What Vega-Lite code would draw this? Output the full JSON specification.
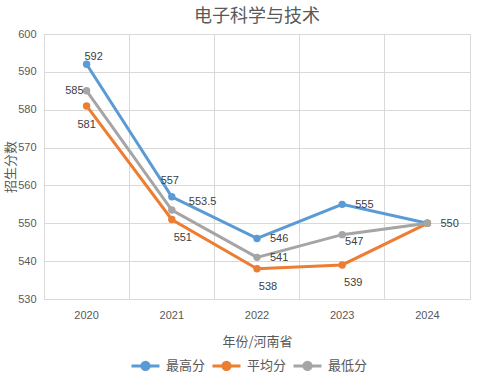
{
  "$schema": "https://vega.github.io/schema/vega-lite/v6.json",
  "autosize": {"type": "none"},
  "padding": {"left": 44, "top": 34, "right": 12, "bottom": 79},
  "width": 426,
  "height": 265,
  "background": "white",
  "title": {"text": "电子科学与技术", "font": "Noto Sans CJK SC", "fontSize": 18, "fontWeight": "normal", "color": "#595959", "anchor": "middle", "offset": 2},
  "config": {
    "font": "Noto Sans CJK SC",
    "view": {"stroke": "#d9d9d9"},
    "axis": {"gridColor": "#d9d9d9", "domain": false, "ticks": false, "labelColor": "#595959", "labelFontSize": 11, "titleColor": "#595959", "titleFontWeight": "normal", "titleFontSize": 13, "labelFont": "Liberation Sans", "labelOverlap": false}
  },
  "data": {"values": [
    {"year": "2020", "series": "最高分", "score": 592},
    {"year": "2021", "series": "最高分", "score": 557},
    {"year": "2022", "series": "最高分", "score": 546},
    {"year": "2023", "series": "最高分", "score": 555},
    {"year": "2024", "series": "最高分", "score": 550},
    {"year": "2020", "series": "平均分", "score": 581},
    {"year": "2021", "series": "平均分", "score": 551},
    {"year": "2022", "series": "平均分", "score": 538},
    {"year": "2023", "series": "平均分", "score": 539},
    {"year": "2024", "series": "平均分", "score": 550},
    {"year": "2020", "series": "最低分", "score": 585},
    {"year": "2021", "series": "最低分", "score": 553.5},
    {"year": "2022", "series": "最低分", "score": 541},
    {"year": "2023", "series": "最低分", "score": 547},
    {"year": "2024", "series": "最低分", "score": 550}
  ]},
  "encoding": {
    "x": {"field": "year", "type": "ordinal", "scale": {"type": "band", "paddingInner": 0, "paddingOuter": 0},
          "axis": {"title": "年份/河南省", "labelAngle": 0, "bandPosition": 0, "labelPadding": 10, "titlePadding": 15, "grid": true}},
    "y": {"field": "score", "type": "quantitative", "scale": {"domain": [530, 600], "nice": false, "zero": false},
          "axis": {"title": "招生分数", "values": [530, 540, 550, 560, 570, 580, 590, 600], "labelPadding": 8, "titlePadding": 0}}
  },
  "layer": [
    {
      "mark": {"type": "line", "strokeWidth": 3, "point": {"size": 55, "filled": true, "opacity": 1}},
      "encoding": {
        "x": {"field": "year", "type": "ordinal", "bandPosition": 0.5},
        "color": {"field": "series", "type": "nominal",
          "scale": {"domain": ["最高分", "平均分", "最低分"], "range": ["#5b9bd5", "#ed7d31", "#a5a5a5"]},
          "legend": {"title": null, "orient": "none", "direction": "horizontal", "legendX": 86, "legendY": 316,
                     "symbolType": "M-1,0H1M0.26,0A0.26,0.26 0 1,1 -0.26,0A0.26,0.26 0 1,1 0.26,0Z",
                     "symbolSize": 784, "symbolStrokeWidth": 3, "labelFontSize": 13, "labelColor": "#595959", "columnPadding": 0, "labelOffset": 5}
        }
      }
    },
    {
      "transform": [{"filter": "datum.series == '最高分' && datum.year == '2020'"}],
      "mark": {"type": "text", "align": "center", "dx": 7, "dy": -7, "fontSize": 11, "color": "#404040", "font": "Liberation Sans"},
      "encoding": {"x": {"field": "year", "type": "ordinal", "bandPosition": 0.5}, "text": {"field": "score"}}
    },
    {
      "transform": [{"filter": "datum.series == '最高分' && datum.year == '2021'"}],
      "mark": {"type": "text", "align": "center", "dx": -2, "dy": -16, "fontSize": 11, "color": "#404040", "font": "Liberation Sans"},
      "encoding": {"x": {"field": "year", "type": "ordinal", "bandPosition": 0.5}, "text": {"field": "score"}}
    },
    {
      "transform": [{"filter": "datum.series == '最高分' && datum.year >= '2022'"}],
      "mark": {"type": "text", "align": "left", "dx": 13, "dy": 1, "fontSize": 11, "color": "#404040", "font": "Liberation Sans"},
      "encoding": {"x": {"field": "year", "type": "ordinal", "bandPosition": 0.5}, "text": {"field": "score"}}
    },
    {
      "transform": [{"filter": "datum.series == '平均分' && datum.year == '2020'"}],
      "mark": {"type": "text", "align": "center", "dx": 0, "dy": 19, "fontSize": 11, "color": "#404040", "font": "Liberation Sans"},
      "encoding": {"x": {"field": "year", "type": "ordinal", "bandPosition": 0.5}, "text": {"field": "score"}}
    },
    {
      "transform": [{"filter": "datum.series == '平均分' && datum.year != '2020' && datum.year != '2024'"}],
      "mark": {"type": "text", "align": "center", "dx": 11, "dy": 18, "fontSize": 11, "color": "#404040", "font": "Liberation Sans"},
      "encoding": {"x": {"field": "year", "type": "ordinal", "bandPosition": 0.5}, "text": {"field": "score"}}
    },
    {
      "transform": [{"filter": "datum.series == '最低分' && datum.year == '2020'"}],
      "mark": {"type": "text", "align": "right", "dx": -3, "dy": 0, "fontSize": 11, "color": "#404040", "font": "Liberation Sans"},
      "encoding": {"x": {"field": "year", "type": "ordinal", "bandPosition": 0.5}, "text": {"field": "score"}}
    },
    {
      "transform": [{"filter": "datum.series == '最低分' && datum.year == '2021'"}],
      "mark": {"type": "text", "align": "left", "dx": 17, "dy": -8, "fontSize": 11, "color": "#404040", "font": "Liberation Sans"},
      "encoding": {"x": {"field": "year", "type": "ordinal", "bandPosition": 0.5}, "text": {"field": "score"}}
    },
    {
      "transform": [{"filter": "datum.series == '最低分' && datum.year == '2022'"}],
      "mark": {"type": "text", "align": "left", "dx": 13, "dy": 1, "fontSize": 11, "color": "#404040", "font": "Liberation Sans"},
      "encoding": {"x": {"field": "year", "type": "ordinal", "bandPosition": 0.5}, "text": {"field": "score"}}
    },
    {
      "transform": [{"filter": "datum.series == '最低分' && datum.year == '2023'"}],
      "mark": {"type": "text", "align": "center", "dx": 12, "dy": 7, "fontSize": 11, "color": "#404040", "font": "Liberation Sans"},
      "encoding": {"x": {"field": "year", "type": "ordinal", "bandPosition": 0.5}, "text": {"field": "score"}}
    }
  ]
}
